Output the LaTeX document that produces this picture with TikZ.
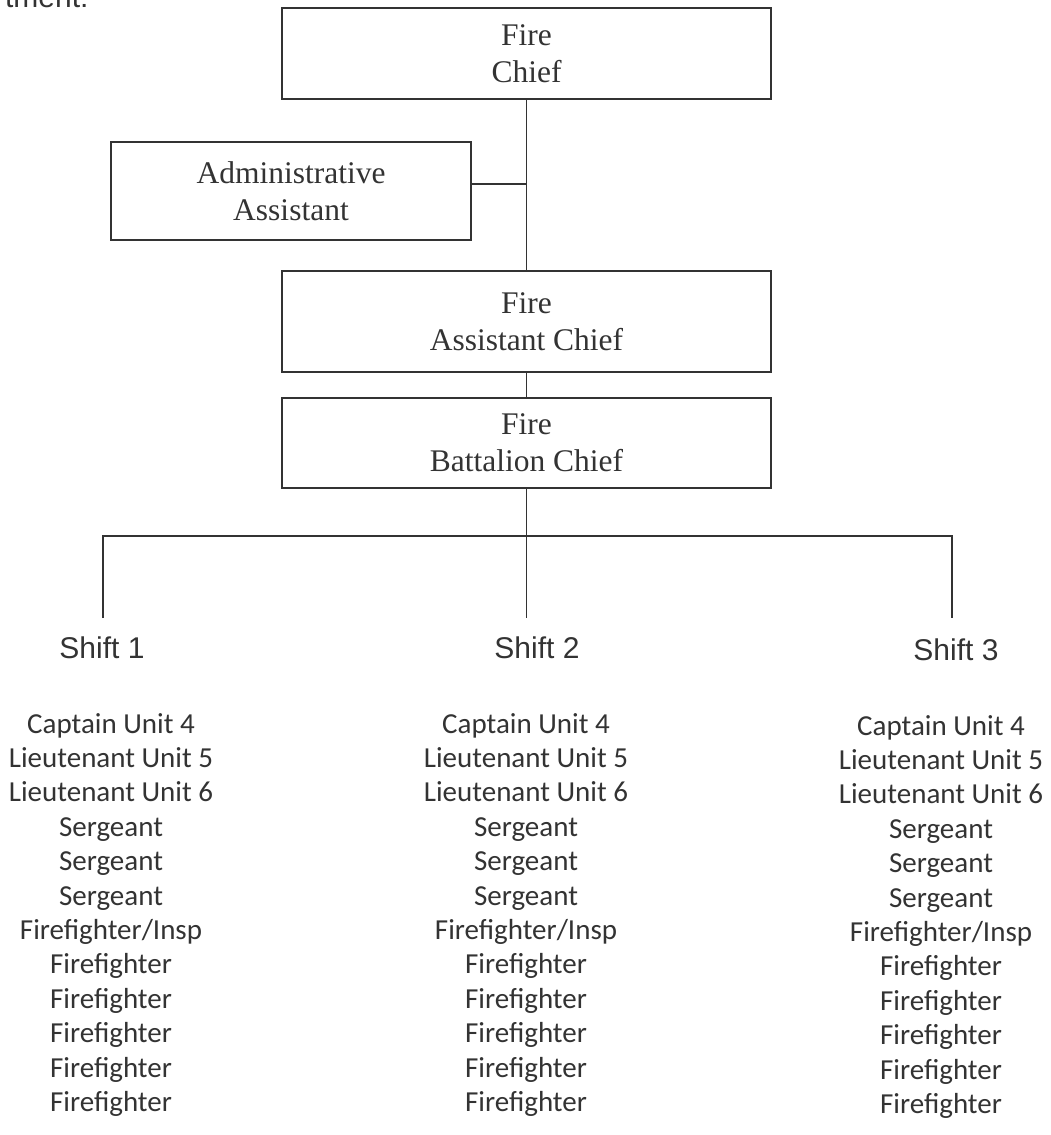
\documentclass[tikz,border=0pt]{standalone}
\usepackage{fontspec}
\setmainfont{Liberation Serif}
\newfontfamily\arialfont{Liberation Sans}
\newfontfamily\califont{Carlito}
\usepackage{tikz}

\begin{document}
\begin{tikzpicture}[x=1pt, y=-1pt, every node/.style={text=black!80},
	box/.style={draw=black!80, line width=2.2pt, align=center, inner sep=0pt, font=\fontsize{31.5}{37}\selectfont},
	link/.style={draw=black!80, line width=1.8pt},
	shiftlbl/.style={font=\arialfont\fontsize{30}{36}\selectfont, anchor=base},
	rank/.style={font=\califont\fontsize{29}{34}\selectfont, anchor=base}]
	\useasboundingbox (0,0) rectangle (1050,1135);
	\node[font=\arialfont\fontsize{30}{36}\selectfont, anchor=base east] (dept) at (92,8) {rtment:};
	\node[box, minimum width=489, minimum height=91] (chief) at (526.5,53.5) {Fire\\Chief};
	\node[box, minimum width=360, minimum height=98] (admin) at (291,191) {Administrative\\Assistant};
	\node[box, minimum width=489, minimum height=101] (asst) at (526.5,321.5) {Fire\\Assistant Chief};
	\node[box, minimum width=489, minimum height=90] (batt) at (526.5,443) {Fire\\Battalion Chief};
	\draw[link] (chief.south) -- (asst.north);
	\draw[link] ([yshift=7pt]admin.east) -- ([yshift=7pt]admin.east -| chief.south);
	\draw[link] (asst.south) -- (batt.north);
	% shifts
	\coordinate (bus1) at (103,536);
	\coordinate (bus3) at (952,536);
	\coordinate (drop1) at (103,618);
	\coordinate (drop3) at (952,618);
	\coordinate (drop2) at (batt.south |- drop1);
	\draw[link] (batt.south) -- (drop2);
	\draw[link] (drop1) -- (bus1) -- (bus3) -- (drop3);
	\node[shiftlbl] (shift1) at (102,658) {Shift 1};
	\node[shiftlbl] (shift2) at (537,658) {Shift 2};
	\node[shiftlbl] (shift3) at (956,660) {Shift 3};
	\foreach \c/\xc/\dy in {1/111/0, 2/526/0, 3/941/2} {
		\foreach \t [count=\r from 0] in {Captain Unit 4, Lieutenant Unit 5, Lieutenant Unit 6, Sergeant, Sergeant, Sergeant, {Firefighter/Insp}, Firefighter, Firefighter, Firefighter, Firefighter, Firefighter}
			\node[rank] (s\c r\r) at (\xc,{733+\dy+\r*34.4}) {\t};
	}
\end{tikzpicture}
\end{document}
